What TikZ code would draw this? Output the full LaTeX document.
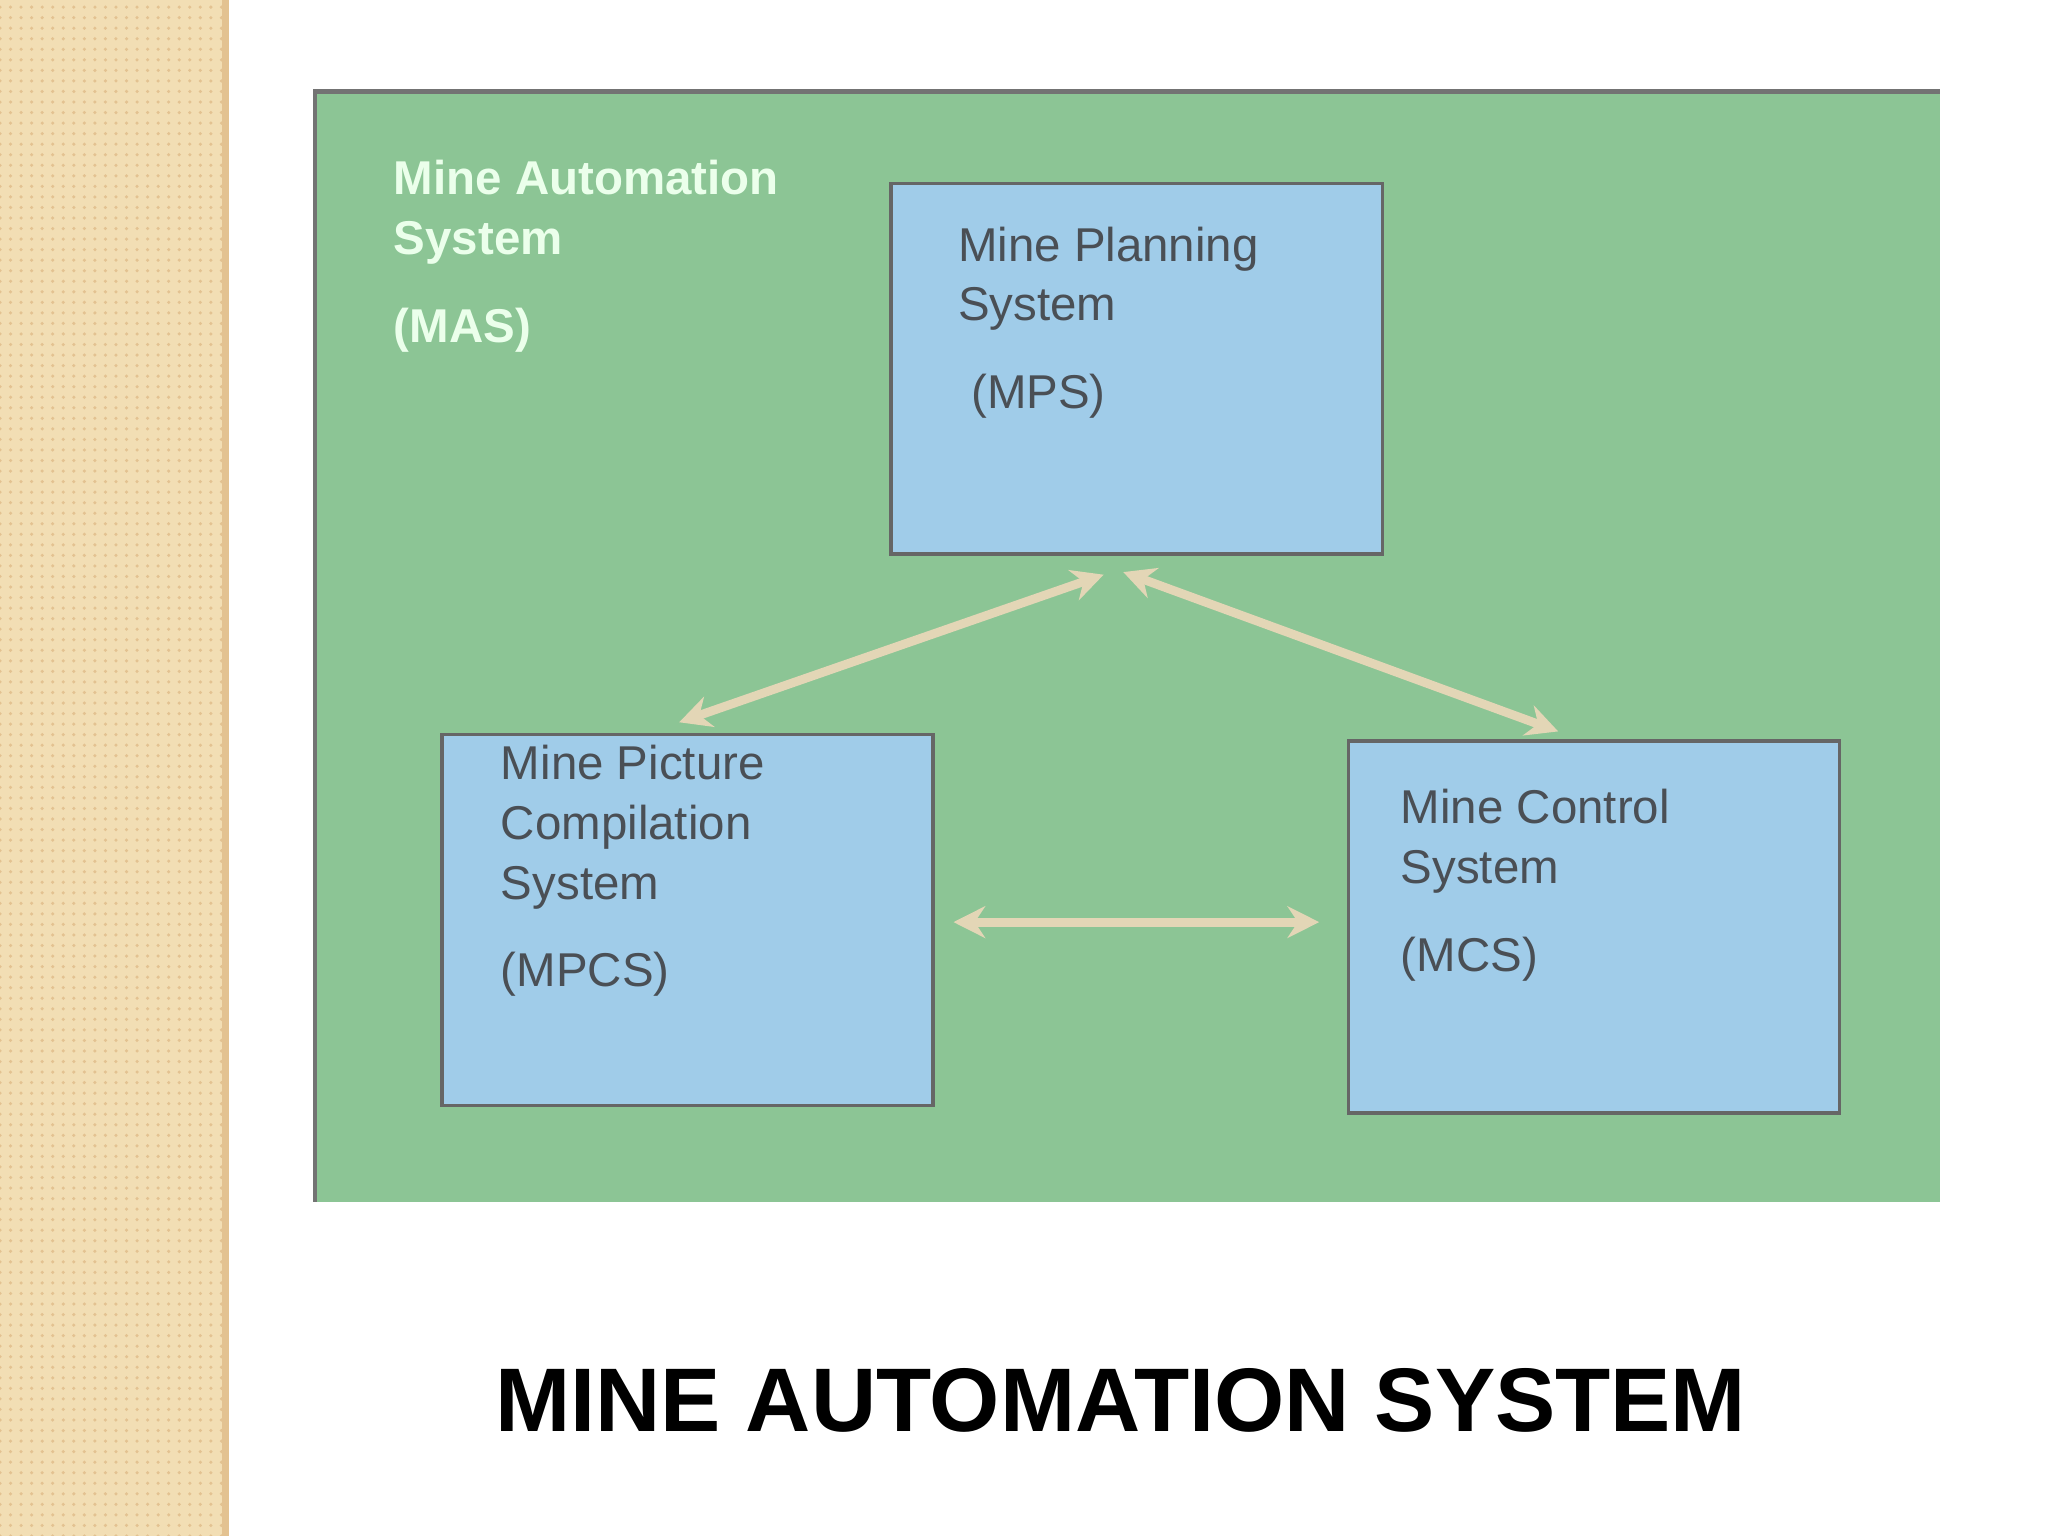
\documentclass[tikz,border=0pt]{standalone}
\usepackage{fontspec}
\setmainfont{Liberation Sans}
\usetikzlibrary{arrows.meta,patterns}
\definecolor{beige}{HTML}{F2DEB4}
\definecolor{mygreen}{HTML}{8CC595}
\definecolor{myblue}{HTML}{A0CCE9}
\definecolor{arr}{HTML}{E3D6B6}
\definecolor{txt}{HTML}{4A4F55}
\begin{document}
\begin{tikzpicture}[x=0.0130612cm,y=-0.0130612cm,
  box/.style={draw=black!60,line width=1pt,fill=myblue,inner sep=0pt,anchor=north west,minimum width=4.911cm},
  lbl/.style={anchor=north west,align=left,text=txt,font=\fontsize{13.5}{17}\selectfont,inner sep=0pt},
  link/.style={draw=arr,line width=2.5pt,{Stealth[length=9pt,width=9pt]}-{Stealth[length=9pt,width=9pt]}}]
\useasboundingbox (0,0) rectangle (1568,1176);
\fill[white] (0,0) rectangle (1568,1176);
\fill[beige] (0,0) rectangle (172,1176);
\fill[pattern=dots,pattern color=beige!70!brown] (0,0) rectangle (172,1176);
\draw[beige!70!brown,line width=2pt] (173,0) -- (173,1176);
\fill[mygreen] (241,70) rectangle (1485,920);
\draw[black!55,line width=1.2pt] (241,920) -- (241,70) -- (1485,70);
\node[anchor=north west,align=left,text=white!92!green,font=\bfseries\fontsize{13.5}{17}\selectfont,inner sep=0pt] (mas) at (301,122) {Mine Automation\\System\\[8pt](MAS)};
\node[box,minimum height=3.709cm] (mps) at (681,139) {};
\node[lbl] (mpst) at (733,173) {Mine Planning\\System\\[8pt]\ (MPS)};
\node[box,minimum height=3.709cm] (mpcs) at (337,561) {};
\node[lbl] (mpcst) at (383,570) {Mine Picture\\Compilation\\System\\[8pt](MPCS)};
\node[box,minimum height=3.722cm] (mcs) at (1031,566) {};
\node[lbl] (mcst) at (1072,604) {Mine Control\\System\\[8pt](MCS)};
\coordinate (a1) at (845,440); \coordinate (a2) at (520,553);
\coordinate (b1) at (860,438); \coordinate (b2) at (1193,560);
\coordinate (c1) at (730,706); \coordinate (c2) at (1010,706);
\draw[link] (a1) -- (a2);
\draw[link] (b1) -- (b2);
\draw[link] (c1) -- (c2);
\node[font=\bfseries\fontsize{25.7}{30}\selectfont] (title) at (858,1072) {MINE AUTOMATION SYSTEM};
\end{tikzpicture}
\end{document}
